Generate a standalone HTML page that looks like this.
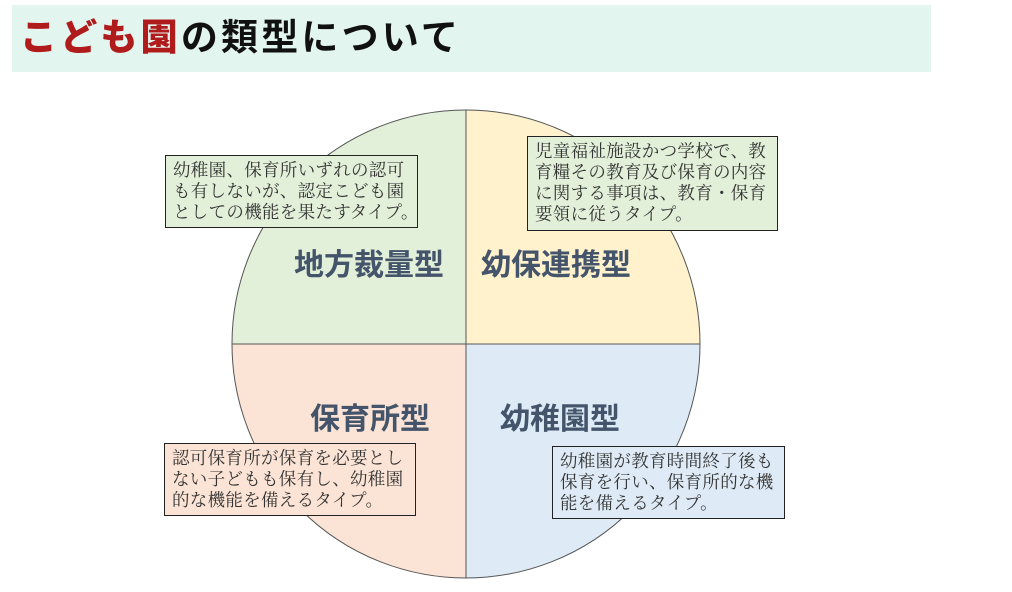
<!DOCTYPE html>
<html><head><meta charset="utf-8"><style>
body{margin:0;width:1012px;height:592px;background:#fff;position:relative;overflow:hidden;font-family:"Liberation Sans","Noto Sans CJK JP",sans-serif}
.title{position:absolute;left:12px;top:5px;width:919px;height:67px;background:#e3f5ef}
.title span{position:absolute;left:8px;top:8px;font-size:37px;font-weight:bold;letter-spacing:3.2px;line-height:50px;color:#111;white-space:nowrap}
.title b{color:#b01c1c}
.box{position:absolute;border:1.3px solid #222;font-size:17.5px;line-height:21px;color:#333;padding:3px 0 0 7px;box-sizing:border-box;white-space:nowrap;letter-spacing:0.3px;font-family:"Noto Serif CJK SC","Noto Sans CJK JP",serif}
.lab{position:absolute;font-size:30px;font-weight:bold;color:#44546a;white-space:nowrap;line-height:32px}
</style></head><body>
<div class="title"><span><b>こども園</b>の類型について</span></div>
<svg width="1012" height="592" style="position:absolute;left:0;top:0">
<path d="M466,344 L466,110 A234,234 0 0 0 232,344 Z" fill="#e2efd9"/>
<path d="M466,344 L466,110 A234,234 0 0 1 700,344 Z" fill="#fff2cc"/>
<path d="M466,344 L232,344 A234,234 0 0 0 466,578 Z" fill="#fbe4d5"/>
<path d="M466,344 L700,344 A234,234 0 0 1 466,578 Z" fill="#deebf6"/>
<circle cx="466" cy="344" r="234" fill="none" stroke="#555" stroke-width="1"/>
<line x1="466" y1="110" x2="466" y2="578" stroke="#555"/>
<line x1="232" y1="344" x2="700" y2="344" stroke="#555"/>
</svg>
<div class="lab" style="left:294px;top:250px">地方裁量型</div>
<div class="lab" style="left:481px;top:250px">幼保連携型</div>
<div class="lab" style="left:310px;top:404px">保育所型</div>
<div class="lab" style="left:500px;top:404px">幼稚園型</div>
<div class="box" style="left:165px;top:155px;width:253px;height:73px;background:#e2efd9">幼稚園、保育所いずれの認可<br>も有しないが、認定こども園<br>としての機能を果たすタイプ。</div>
<div class="box" style="left:527px;top:136px;width:251px;height:95px;background:#e2efd9">児童福祉施設かつ学校で、教<br>育糧その教育及び保育の内容<br>に関する事項は、教育・保育<br>要領に従うタイプ。</div>
<div class="box" style="left:164px;top:443px;width:252px;height:73px;background:#fbe4d5">認可保育所が保育を必要とし<br>ない子どもも保有し、幼稚園<br>的な機能を備えるタイプ。</div>
<div class="box" style="left:552px;top:446px;width:233px;height:73px;background:#deebf6">幼稚園が教育時間終了後も<br>保育を行い、保育所的な機<br>能を備えるタイプ。</div>
</body></html>
